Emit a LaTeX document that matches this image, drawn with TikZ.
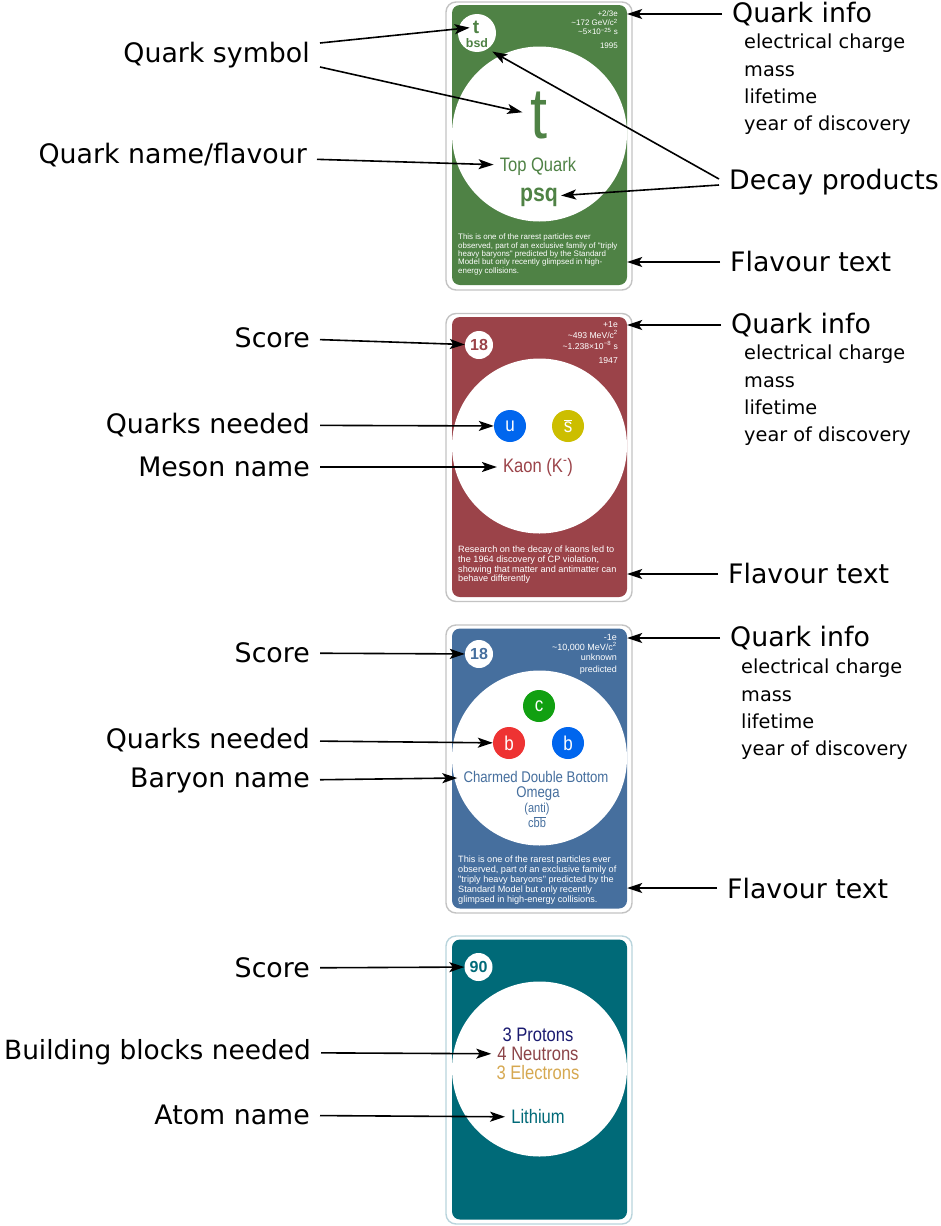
\documentclass[tikz,border=0pt]{standalone}
\usepackage{fontspec}
\setmainfont{DejaVu Sans}
\newfontfamily\cardfont{Liberation Sans}
\newfontfamily\narrowfont[FakeStretch=0.85]{Liberation Sans}
\usetikzlibrary{arrows.meta}
\definecolor{topgreen}{RGB}{79,130,69}
\definecolor{kaonred}{RGB}{155,67,73}
\definecolor{omegablue}{RGB}{70,111,158}
\definecolor{lithteal}{RGB}{0,106,120}
\definecolor{rimgrey}{RGB}{195,195,195}
\definecolor{rimteal}{RGB}{185,212,220}
\definecolor{quarkblue}{RGB}{0,102,238}
\definecolor{quarkyellow}{RGB}{204,190,0}
\definecolor{quarkgreen}{RGB}{17,160,17}
\definecolor{quarkred}{RGB}{238,51,51}
\definecolor{protonblue}{RGB}{26,26,112}
\definecolor{neutronred}{RGB}{140,68,72}
\definecolor{electrongold}{RGB}{214,168,80}
\begin{document}
\begin{tikzpicture}[x=1pt,y=-1pt,
    rim/.style={draw=#1,line width=1.4pt,rounded corners=10pt,minimum width=186pt,minimum height=288pt,inner sep=0pt},
    face/.style={fill=#1,rounded corners=8pt,minimum width=175pt,minimum height=280pt,inner sep=0pt},
    lbl/.style={font=\fontsize{26.8}{30}\selectfont,inner sep=10pt},
    sub/.style={font=\fontsize{19.3}{27.3}\selectfont,align=left,anchor=north west,inner sep=0pt},
    info/.style={text=white,align=right,anchor=north east,inner sep=0pt},
    flav/.style={text=white,align=left,anchor=north west,inner sep=0pt},
    cardtxt/.style={text=#1,inner sep=6pt,font=\narrowfont\fontsize{19.5}{19.5}\selectfont},
    score/.style={circle,fill=white,text=#1,minimum size=28pt,inner sep=0pt,font=\cardfont\bfseries\fontsize{16}{16}\selectfont},
    quark/.style={circle,fill=#1,text=white,minimum size=32pt,inner sep=0pt,font=\narrowfont\fontsize{20}{20}\selectfont},
    arr/.style={-{Stealth[length=15pt,width=10pt,inset=3.5pt]},line width=1.6pt}]
  \useasboundingbox (0,0) rectangle (940,1226);
  %top quark card
  \node[rim=rimgrey] (rim1) at (539,146) {};
  \node[face=topgreen] (face1) at (539.5,145) {};
  \fill[white] (539.5,134) circle (87.5pt);
  \node[circle,fill=white,minimum size=38pt,inner sep=0pt] (symb1) at (477,33) {};
  \node[text=topgreen,inner sep=3pt,font=\cardfont\bfseries\fontsize{19}{19}\selectfont] (smallt) at (476,27) {t};
  \node[text=topgreen,inner sep=4pt,font=\cardfont\bfseries\fontsize{12.4}{12.4}\selectfont] (bsd) at (477,43) {bsd};
  \node[info,font=\cardfont\fontsize{8}{9}\selectfont] (data1) at (618,11) {+2/3e\\\textasciitilde172 GeV/c\textsuperscript{2}\\\textasciitilde5×10\textsuperscript{−25} s\\[5pt]1995};
  \node[cardtxt=topgreen,inner sep=8pt,font=\narrowfont\fontsize{72}{72}\selectfont] (bigt) at (539,116) {t};
  \node[cardtxt=topgreen] (topq) at (538,166) {Top Quark};
  \node[cardtxt=topgreen,inner sep=3pt,font=\narrowfont\bfseries\fontsize{25}{25}\selectfont] (psq) at (539,197) {psq};
  \node[flav,font=\cardfont\fontsize{7.95}{8.3}\selectfont] (story1) at (458,234) {This is one of the rarest particles ever\\observed, part of an exclusive family of "triply\\heavy baryons" predicted by the Standard\\Model but only recently glimpsed in high-\\energy collisions.};
  %kaon card
  \node[rim=rimgrey] (rim2) at (539,457.5) {};
  \node[face=kaonred] (face2) at (539.5,457) {};
  \fill[white] (539.5,446) circle (87.5pt);
  \node[score=kaonred] (score2) at (479,345) {18};
  \node[info,font=\cardfont\fontsize{8.6}{11}\selectfont] (data2) at (618,321) {+1e\\\textasciitilde493 MeV/c\textsuperscript{2}\\\textasciitilde1.238×10\textsuperscript{−8} s\\[3pt]1947};
  \node[quark=quarkblue] (u2) at (510,426) {u};
  \node[quark=quarkyellow] (s2) at (568,426) {$\overline{\hbox{s}}$};
  \node[cardtxt=kaonred] (kaon) at (538,467) {Kaon (K\textsuperscript{-})};
  \node[flav,font=\cardfont\fontsize{9.15}{9.6}\selectfont] (story2) at (458,546) {Research on the decay of kaons led to\\the 1964 discovery of CP violation,\\showing that matter and antimatter can\\behave differently};
  %omega card
  \node[rim=rimgrey] (rim3) at (539,769) {};
  \node[face=omegablue] (face3) at (539.5,768.5) {};
  \fill[white] (539.5,758) circle (87.5pt);
  \node[score=omegablue] (score3) at (479,654) {18};
  \node[info,font=\cardfont\fontsize{9}{9.8}\selectfont] (data3) at (617,634) {-1e\\\textasciitilde10,000 MeV/c\textsuperscript{2}\\unknown\\[3pt]predicted};
  \node[quark=quarkgreen] (c3) at (539,706) {c};
  \node[quark=quarkred] (b3) at (509,743) {b};
  \node[quark=quarkblue] (bb3) at (568,743) {b};
  \node[cardtxt=omegablue,font=\narrowfont\fontsize{15.5}{15.5}\selectfont] (charm) at (536,777) {Charmed Double Bottom};
  \node[cardtxt=omegablue,font=\narrowfont\fontsize{15.5}{15.5}\selectfont] (omega) at (538,794) {Omega};
  \node[cardtxt=omegablue,font=\narrowfont\fontsize{13}{13}\selectfont] (anti) at (537,809) {(anti)};
  \node[cardtxt=omegablue,font=\narrowfont\fontsize{13}{13}\selectfont] (cbb) at (537,822) {c$\overline{\hbox{bb}}$};
  \node[flav,font=\cardfont\fontsize{9.15}{9.8}\selectfont] (story3) at (458,856) {This is one of the rarest particles ever\\observed, part of an exclusive family of\\"triply heavy baryons" predicted by the\\Standard Model but only recently\\glimpsed in high-energy collisions.};
  %lithium card
  \node[rim=rimteal] (rim4) at (539,1080) {};
  \node[face=lithteal] (face4) at (539.5,1079.5) {};
  \fill[white] (539.5,1069) circle (87.5pt);
  \node[score=lithteal] (score4) at (478.5,967) {90};
  \node[cardtxt=protonblue] (protons) at (538,1035) {3 Protons};
  \node[cardtxt=neutronred] (neutrons) at (538,1054) {4 Neutrons};
  \node[cardtxt=electrongold] (electrons) at (538,1073) {3 Electrons};
  \node[cardtxt=lithteal] (lithium) at (538,1117) {Lithium};
  %labels left
  \node[lbl,anchor=east] (qsym) at (320,55) {Quark symbol};
  \node[lbl,anchor=east] (qname) at (317,155) {Quark name/flavour};
  \node[lbl,anchor=east] (scorelbl2) at (320,338) {Score};
  \node[lbl,anchor=east] (needlbl2) at (320,425) {Quarks needed};
  \node[lbl,anchor=east] (mesonlbl) at (320,467) {Meson name};
  \node[lbl,anchor=east] (scorelbl3) at (320,653) {Score};
  \node[lbl,anchor=east] (needlbl3) at (320,740) {Quarks needed};
  \node[lbl,anchor=east] (baryonlbl) at (320,781) {Baryon name};
  \node[lbl,anchor=east] (scorelbl4) at (320,968) {Score};
  \node[lbl,anchor=east,font=\fontsize{26.4}{30}\selectfont] (blocklbl) at (321,1052) {Building blocks needed};
  \node[lbl,anchor=east] (atomlbl) at (320,1115) {Atom name};
  %labels right
  \node[lbl,anchor=west] (qinfo1) at (722,14) {Quark info};
  \node[sub] (qlist1) at (744,34) {electrical charge\\mass\\lifetime\\year of discovery};
  \node[lbl,anchor=west] (decay) at (719,182) {Decay products};
  \node[lbl,anchor=west] (flavlbl1) at (720,262) {Flavour text};
  \node[lbl,anchor=west] (qinfo2) at (721,325) {Quark info};
  \node[sub] (qlist2) at (744,345) {electrical charge\\mass\\lifetime\\year of discovery};
  \node[lbl,anchor=west] (flavlbl2) at (718,574) {Flavour text};
  \node[lbl,anchor=west] (qinfo3) at (720,638) {Quark info};
  \node[sub] (qlist3) at (741,659) {electrical charge\\mass\\lifetime\\year of discovery};
  \node[lbl,anchor=west] (flavlbl3) at (717,888) {Flavour text};
  %arrows
  \draw[arr] ([yshift=12pt]qsym.east) -- (smallt);
  \draw[arr] ([yshift=-12pt]qsym.east) -- (bigt);
  \draw[arr] (qname) -- (topq);
  \draw[arr] (qinfo1) -- (face1.east |- qinfo1);
  \draw[arr] ([yshift=3pt]decay.west) -- (bsd);
  \draw[arr] ([yshift=-3pt]decay.west) -- (psq);
  \draw[arr] (flavlbl1) -- (face1.east |- flavlbl1);
  \draw[arr] (scorelbl2) -- (score2);
  \draw[arr] (needlbl2) -- (u2);
  \draw[arr] (mesonlbl) -- (kaon);
  \draw[arr] (qinfo2) -- (face2.east |- qinfo2);
  \draw[arr] (flavlbl2) -- (face2.east |- flavlbl2);
  \draw[arr] (scorelbl3) -- (score3);
  \draw[arr] (needlbl3) -- (b3);
  \draw[arr] (baryonlbl) -- (charm);
  \draw[arr] (qinfo3) -- (face3.east |- qinfo3);
  \draw[arr] (flavlbl3) -- (face3.east |- flavlbl3);
  \draw[arr] (scorelbl4) -- (score4);
  \draw[arr] (blocklbl) -- (neutrons);
  \draw[arr] (atomlbl) -- (lithium);
\end{tikzpicture}
\end{document}
